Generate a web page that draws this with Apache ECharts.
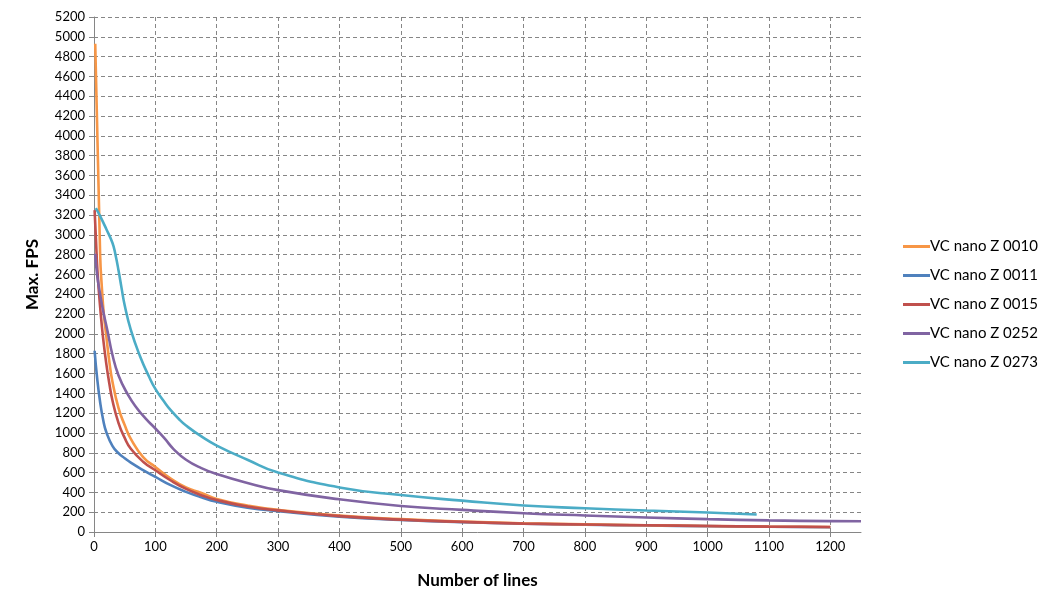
<!DOCTYPE html>
<html>
<head>
<meta charset="utf-8">
<script src="https://cdn.jsdelivr.net/npm/echarts@6/dist/echarts.min.js"></script>
<style>html,body{margin:0;padding:0;background:#fff;}#c{width:1059px;height:609px;}</style>
</head>
<body>
<div id="c"></div>
<script>
var seriesNames = ['VC nano Z 0010', 'VC nano Z 0011', 'VC nano Z 0015', 'VC nano Z 0252', 'VC nano Z 0273'];
var xTicks = [0, 100, 200, 300, 400, 500, 600, 700, 800, 900, 1000, 1100, 1200];

var lines0010 = [2, 10, 13, 16, 20, 25, 30, 40, 50, 60, 80, 100, 125, 150, 175, 200, 250, 300, 400, 500, 600, 700, 800, 900, 1000, 1100, 1200];
var fps0010   = [4930, 2800, 2450, 2200, 1980, 1720, 1520, 1250, 1080, 940, 757, 657, 540, 450, 395, 333, 268, 223, 165, 130, 105, 88, 77, 68, 61, 55, 50];

var lines0011 = [1, 5, 10, 15, 20, 30, 40, 50, 60, 80, 100, 125, 150, 175, 200, 250, 300, 400, 500, 600, 700, 800, 900, 1000, 1100, 1200];
var fps0011   = [1830, 1560, 1310, 1130, 1010, 870, 795, 745, 700, 625, 557, 473, 405, 350, 305, 245, 210, 155, 122, 100, 84, 74, 66, 59, 53, 48];

var lines0015 = [1, 3, 6, 11, 15, 20, 25, 30, 40, 50, 60, 80, 100, 125, 150, 175, 200, 250, 300, 400, 500, 600, 700, 800, 900, 1000, 1100, 1200];
var fps0015   = [3250, 2980, 2600, 2200, 1950, 1700, 1500, 1330, 1100, 950, 840, 710, 623, 520, 435, 372, 323, 257, 218, 160, 125, 102, 85, 75, 68, 60, 54, 50];

var lines0252 = [2, 5, 10, 15, 22, 30, 40, 55, 70, 85, 100, 115, 130, 150, 175, 200, 250, 300, 400, 500, 600, 700, 800, 900, 1000, 1100, 1200, 1250];
var fps0252   = [2810, 2600, 2400, 2230, 2030, 1790, 1580, 1390, 1250, 1140, 1045, 945, 835, 730, 645, 585, 495, 423, 330, 263, 223, 190, 167, 147, 130, 117, 110, 108];

var lines0273 = [3, 10, 20, 30, 35, 40, 45, 50, 60, 75, 90, 100, 115, 125, 140, 150, 175, 200, 250, 300, 400, 500, 600, 700, 800, 900, 1000, 1080];
var fps0273   = [3270, 3190, 3060, 2920, 2800, 2640, 2460, 2290, 2040, 1775, 1565, 1445, 1310, 1230, 1130, 1075, 965, 873, 730, 600, 450, 373, 317, 267, 240, 217, 197, 177];

var colors = ['#F79646', '#4F81BD', '#C0504D', '#8064A2', '#4BACC6'];

function zip(xs, ys) { return xs.map(function (x, i) { return [x, ys[i]]; }); }
var allData = [zip(lines0010, fps0010), zip(lines0011, fps0011), zip(lines0015, fps0015), zip(lines0252, fps0252), zip(lines0273, fps0273)];
var drawOrder = [1, 0, 2, 3, 4];

var series = drawOrder.map(function (i, k) {
  return {
    name: seriesNames[i],
    type: 'line',
    data: allData[i],
    showSymbol: false,
    symbol: 'none',
    smooth: 0.5,
    lineStyle: { width: 2.6, color: colors[i] },
    itemStyle: { color: colors[i] },
    z: 2 + k,
    animation: false
  };
});

var gridColor = '#868686';
var chart = echarts.init(document.getElementById('c'), null, { renderer: 'canvas' });
chart.setOption({
  animation: false,
  color: colors,
  grid: { left: 94, right: 198, top: 17, bottom: 77, containLabel: false },
  legend: {
    orient: 'vertical',
    left: 898,
    top: 234,
    data: seriesNames.map(function (n) { return { name: n, icon: 'rect' }; }),
    itemWidth: 27,
    itemHeight: 3,
    itemGap: 14,
    textStyle: { fontFamily: 'Lato', fontSize: 15, color: '#000', padding: [0, 0, 0, -5] }
  },
  xAxis: {
    type: 'value',
    min: 0,
    max: 1250,
    interval: 100,
    name: 'Number of lines',
    nameLocation: 'middle',
    nameGap: 40,
    nameTextStyle: { fontFamily: 'Lato', fontSize: 17, fontWeight: 'bold', color: '#000' },
    axisLine: { show: true, onZero: false, lineStyle: { color: gridColor, width: 1 } },
    axisTick: { show: true, length: 5, lineStyle: { color: gridColor }, customValues: xTicks },
    axisLabel: { fontFamily: 'Lato', fontSize: 13, color: '#000', margin: 8, customValues: xTicks, formatter: function (v) { return String(v); } },
    splitLine: { show: true, lineStyle: { color: gridColor, type: [4, 3], width: 1 } }
  },
  yAxis: {
    type: 'value',
    min: 0,
    max: 5200,
    interval: 200,
    name: 'Max. FPS',
    nameLocation: 'middle',
    nameGap: 53,
    nameTextStyle: { fontFamily: 'Lato', fontSize: 17, fontWeight: 'bold', color: '#000' },
    axisLine: { show: true, lineStyle: { color: gridColor, width: 1 } },
    axisTick: { show: true, length: 5, lineStyle: { color: gridColor } },
    axisLabel: { fontFamily: 'Lato', fontSize: 13, color: '#000', margin: 9, formatter: function (v) { return String(v); } },
    splitLine: { show: true, lineStyle: { color: gridColor, type: [4, 3], width: 1 } }
  },
  series: series
});
</script>
</body>
</html>
